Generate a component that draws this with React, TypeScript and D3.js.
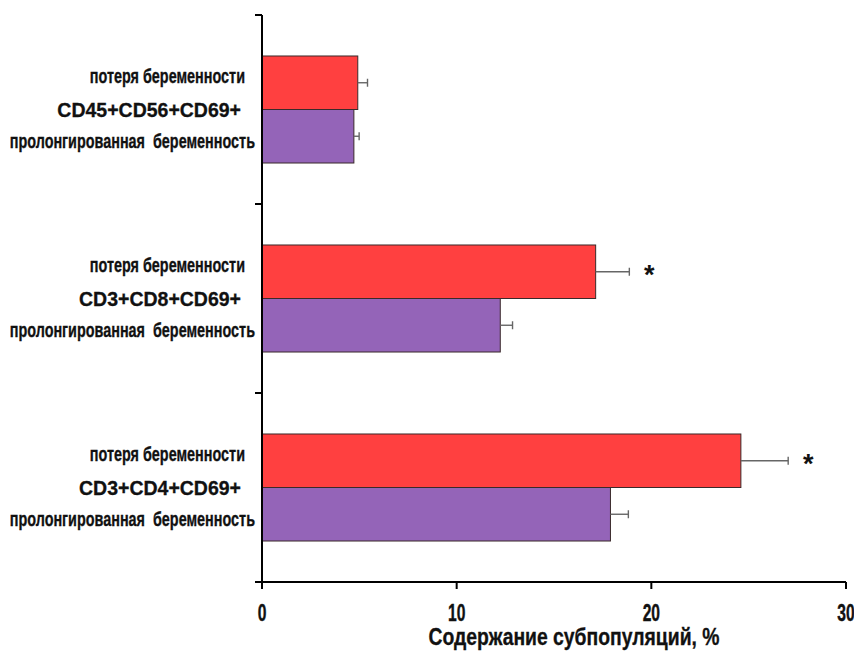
import React, { useRef, useEffect } from 'react';
import * as d3 from 'd3';

const categories = ['CD45+CD56+CD69+', 'CD3+CD8+CD69+', 'CD3+CD4+CD69+'];
const seriesNames = ['потеря беременности', 'пролонгированная  беременность'];
const lossValues = [4.92, 17.14, 24.6];
const lossErrors = [0.5, 1.73, 2.43];
const prolongedValues = [4.72, 12.24, 17.9];
const prolongedErrors = [0.27, 0.63, 0.92];
const significant = [false, true, true];
const xTicks = [0, 10, 20, 30];
const xTitle = 'Содержание субпопуляций, %';

const colors = ['#ff4040', '#9464b8'];
const FONT = '"Liberation Sans", Arial, sans-serif';

const App = () => {
  const svgRef = useRef(null);

  useEffect(() => {
    const svg = d3.select(svgRef.current);
    svg.selectAll('*').remove();

    const margin = { top: 15, left: 262, right: 8, bottom: 71 };
    const width = 854;
    const height = 653;
    const innerWidth = 846 - margin.left;
    const innerHeight = height - margin.top - margin.bottom;

    const x = d3.scaleLinear().domain([0, 30]).range([0, innerWidth]);
    const y = d3.scaleBand().domain(categories).range([0, innerHeight]).padding(0);
    const ySub = d3.scaleBand().domain(['loss', 'prolonged']).range([0, y.bandwidth()])
      .paddingInner(0).paddingOuter(0.766);

    const g = svg.append('g').attr('transform', `translate(${margin.left},${margin.top})`);

    const rows = categories.map((c, i) => ({
      category: c,
      series: [
        { key: 'loss', value: lossValues[i], err: lossErrors[i], color: colors[0] },
        { key: 'prolonged', value: prolongedValues[i], err: prolongedErrors[i], color: colors[1] }
      ],
      sig: significant[i]
    }));

    const groups = g.selectAll('g.row').data(rows).join('g')
      .attr('class', 'row')
      .attr('transform', d => `translate(0,${y(d.category)})`);

    // bars
    groups.selectAll('rect').data(d => d.series).join('rect')
      .attr('x', x(0))
      .attr('y', d => ySub(d.key))
      .attr('width', d => x(d.value) - x(0))
      .attr('height', ySub.bandwidth())
      .attr('fill', d => d.color)
      .attr('stroke', '#3a2a2a')
      .attr('stroke-width', 1);

    // error bars
    const eb = groups.selectAll('g.err').data(d => d.series).join('g').attr('class', 'err')
      .attr('stroke', '#666')
      .attr('stroke-width', 1.4);
    eb.append('line')
      .attr('x1', d => x(d.value)).attr('x2', d => x(d.value + d.err))
      .attr('y1', d => ySub(d.key) + ySub.bandwidth() / 2)
      .attr('y2', d => ySub(d.key) + ySub.bandwidth() / 2);
    eb.append('line')
      .attr('x1', d => x(d.value + d.err)).attr('x2', d => x(d.value + d.err))
      .attr('y1', d => ySub(d.key) + ySub.bandwidth() / 2 - 4)
      .attr('y2', d => ySub(d.key) + ySub.bandwidth() / 2 + 4);

    // asterisks
    groups.filter(d => d.sig).append('text')
      .attr('x', d => x(d.series[0].value + d.series[0].err) + 20)
      .attr('y', ySub('loss') + ySub.bandwidth() / 2 + 12)
      .attr('text-anchor', 'middle')
      .attr('font-family', FONT)
      .attr('font-weight', 'bold')
      .attr('font-size', 27)
      .attr('fill', '#111')
      .text('*');

    // left labels
    const labels = groups.append('g').attr('font-family', FONT).attr('font-weight', 'bold')
      .attr('fill', '#111').attr('stroke', '#111').attr('stroke-width', 0.3)
      .attr('text-anchor', 'end').style('white-space', 'pre');
    const mid = y.bandwidth() / 2;
    labels.append('text')
      .attr('transform', `translate(-17,${mid - 27}) scale(0.8,1.08)`)
      .attr('font-size', 18)
      .text(seriesNames[0]);
    labels.append('text')
      .attr('transform', `translate(-21,${mid + 7.5}) scale(1,1.05)`)
      .attr('font-size', 19.5)
      .text(d => d.category);
    labels.append('text')
      .attr('transform', `translate(-7,${mid + 38}) scale(0.8,1.08)`)
      .attr('font-size', 18)
      .attr('xml:space', 'preserve')
      .text(seriesNames[1]);

    // y axis
    const yAxis = g.append('g').attr('stroke', '#000').attr('stroke-width', 2);
    yAxis.append('line').attr('x1', 0).attr('x2', 0).attr('y1', 0).attr('y2', innerHeight);
    const yTickPos = [0, ...categories.map(c => y(c) + y.bandwidth())];
    yAxis.selectAll('line.tick').data(yTickPos).join('line').attr('class', 'tick')
      .attr('x1', -7).attr('x2', 0).attr('y1', d => d).attr('y2', d => d);

    // x axis
    const xAxis = g.append('g').attr('transform', `translate(0,${innerHeight})`);
    xAxis.append('line').attr('x1', 0).attr('x2', innerWidth).attr('y1', 0).attr('y2', 0)
      .attr('stroke', '#000').attr('stroke-width', 2);
    xAxis.selectAll('line.tick').data(xTicks).join('line').attr('class', 'tick')
      .attr('x1', d => x(d)).attr('x2', d => x(d)).attr('y1', 0).attr('y2', 7)
      .attr('stroke', '#000').attr('stroke-width', 2);
    xAxis.selectAll('text.tl').data(xTicks).join('text').attr('class', 'tl')
      .attr('transform', d => `translate(${x(d)},39) scale(0.68,1)`)
      .attr('text-anchor', 'middle')
      .attr('font-family', FONT).attr('font-weight', 'bold').attr('font-size', 23)
      .attr('fill', '#111').attr('stroke', '#111').attr('stroke-width', 0.4)
      .text(d => d);
    xAxis.append('text')
      .attr('transform', `translate(${x(15) + 20},63) scale(0.88,1.05)`)
      .attr('text-anchor', 'middle')
      .attr('font-family', FONT).attr('font-weight', 'bold').attr('font-size', 22)
      .attr('fill', '#111').attr('stroke', '#111').attr('stroke-width', 0.3)
      .text(xTitle);

    svg.attr('width', width).attr('height', height);
  }, []);

  return (
    <svg ref={svgRef} width={854} height={653}
      style={{ position: 'absolute', left: 0, top: 0, background: '#fff' }} />
  );
};

export default App;
